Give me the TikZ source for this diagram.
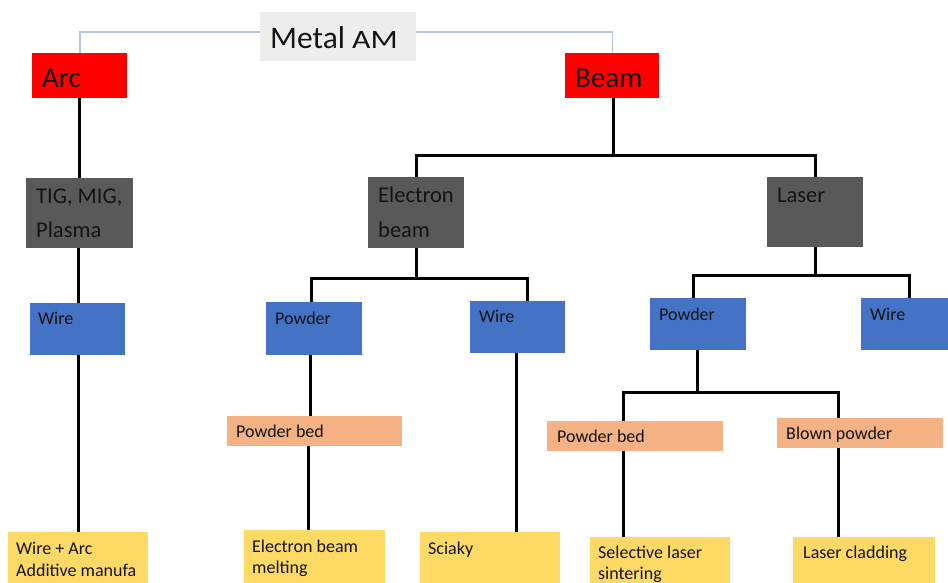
\documentclass[tikz,border=0pt]{standalone}
\usepackage{graphicx}
\usepackage{fontspec}
\setmainfont{Carlito}
\definecolor{rootfill}{HTML}{EDEDED}
\definecolor{rootline}{HTML}{B4C7E7}
\definecolor{srcred}{HTML}{FF0000}
\definecolor{procgray}{HTML}{595959}
\definecolor{feedblue}{HTML}{4472C4}
\definecolor{bedsalmon}{HTML}{F4B183}
\definecolor{procyellow}{HTML}{FFD966}
\definecolor{ink}{HTML}{141414}
\tikzset{
  x=1pt, y=-1pt,
  boxbase/.style={draw=none, inner sep=0pt, anchor=north west},
  rootbox/.style={boxbase, fill=rootfill},
  srcbox/.style={boxbase, fill=srcred},
  grpbox/.style={boxbase, fill=procgray},
  feedbox/.style={boxbase, fill=feedblue},
  bedbox/.style={boxbase, fill=bedsalmon},
  procbox/.style={boxbase, fill=procyellow},
  lbl/.style={inner sep=0pt, anchor=base west, text=ink},
  bigtxt/.style={lbl, font=\fontsize{29}{34}\selectfont},
  midtxt/.style={lbl, font=\fontsize{22.5}{28}\selectfont},
  smalltxt/.style={lbl, font=\fontsize{18}{22}\selectfont},
  tree/.style={line width=3pt, black},
  rootlink/.style={line width=1.5pt, rootline},
}
% box of given corner and size
\newcommand{\putbox}[6]{\node[#1, minimum width=#5, minimum height=#6] (#2) at (#3,#4) {};}
\begin{document}
\begin{tikzpicture}
\useasboundingbox (0,0) rectangle (948,582);
\clip (0,0) rectangle (948,582);
\fill[white] (0,0) rectangle (948,582);

% boxes
\putbox{rootbox}{mam}{260}{12}{156pt}{49pt}
\putbox{srcbox}{arc}{32}{53}{95pt}{45pt}
\putbox{srcbox}{beam}{565}{53}{94pt}{45pt}
\putbox{grpbox}{tig}{26}{178}{107pt}{70pt}
\putbox{grpbox}{eb}{368}{177}{96pt}{71pt}
\putbox{grpbox}{laser}{767}{177}{96pt}{70pt}
\putbox{feedbox}{wireA}{30}{303}{95pt}{52pt}
\putbox{feedbox}{powE}{266}{302}{96pt}{53pt}
\putbox{feedbox}{wireE}{470}{301}{95pt}{52pt}
\putbox{feedbox}{powL}{650}{298}{96pt}{52pt}
\putbox{feedbox}{wireL}{861}{298}{100pt}{52pt}
\putbox{bedbox}{bedE}{227}{416}{175pt}{30pt}
\putbox{bedbox}{bedL}{547}{421}{176pt}{30pt}
\putbox{bedbox}{blown}{777}{418}{166pt}{30pt}
\putbox{procbox}{waam}{8}{532}{140pt}{70pt}
\putbox{procbox}{ebm}{244}{530}{141pt}{70pt}
\putbox{procbox}{sciaky}{420}{532}{140pt}{70pt}
\putbox{procbox}{sls}{590}{537}{140pt}{70pt}
\putbox{procbox}{clad}{793}{537}{142pt}{70pt}

% labels
\node[lbl, font=\fontsize{31.5}{36}\selectfont] (mamT) at (270,48) {Metal \scalebox{1.2}[1]{\fontsize{26.5}{30}\selectfont AM}};
\node[bigtxt] (arcT) at (42,87) {Arc};
\node[bigtxt] (beamT) at (575,87) {Beam};
\node[midtxt] (tigT1) at (36,203) {TIG, MIG,};
\node[midtxt] (tigT2) at (36,237) {Plasma};
\node[midtxt] (ebT1) at (378,202) {Electron};
\node[midtxt] (ebT2) at (378,237) {beam};
\node[midtxt] (laserT) at (777,202) {Laser};
\node[smalltxt] (wireAT) at (38,324) {Wire};
\node[smalltxt] (powET) at (275,324) {Powder};
\node[smalltxt] (wireET) at (479,322) {Wire};
\node[smalltxt] (powLT) at (659,320) {Powder};
\node[smalltxt] (wireLT) at (870,320) {Wire};
\node[smalltxt] (bedET) at (236,437) {Powder bed};
\node[smalltxt] (bedLT) at (557,442) {Powder bed};
\node[smalltxt] (blownT) at (786,439) {Blown powder};
\node[smalltxt] (waamT1) at (16,554) {Wire + Arc};
\node[smalltxt] (waamT2) at (16,576) {Additive manufa};
\node[smalltxt] (ebmT1) at (252,552) {Electron beam};
\node[smalltxt] (ebmT2) at (252,573) {melting};
\node[smalltxt] (sciakyT) at (428,554) {Sciaky};
\node[smalltxt] (slsT1) at (598,558) {Selective laser};
\node[smalltxt] (slsT2) at (598,579) {sintering};
\node[smalltxt] (cladT) at (803,558) {Laser cladding};

% root links
\draw[rootlink] ([yshift=4.5pt]mam.west) -| ([xshift=0.5pt]arc.north);
\draw[rootlink] ([yshift=4.5pt]mam.east) -| ([xshift=0.5pt]beam.north);

% branch points and drop lines
\coordinate (jBeam) at (613,155);
\coordinate (jEbL) at (311,278);
\coordinate (jEbR) at (527,278);
\coordinate (jLsL) at (693,275);
\coordinate (jLsR) at (909,275);
\coordinate (jPwL) at (623,392);
\coordinate (jPwR) at (838,392);
\coordinate (dArc) at (78,0);
\coordinate (dPowE) at (310,0);
\coordinate (dBedE) at (308,0);
\coordinate (dWireE) at (516,0);
\coordinate (dPowL) at (697,0);

% arc branch
\draw[tree] (arc.south) -- (arc.south |- tig.north);
\draw[tree] (tig.south -| dArc) -- (wireA.north -| dArc);
\draw[tree] (wireA.south -| dArc) -- (waam.north -| dArc);

% beam branch
\draw[tree] (beam.south -| jBeam) -- (jBeam);
\draw[tree] (eb.north) |- (jBeam) -| (laser.north);

% electron beam branch
\draw[tree] (eb.south) -- (eb.south |- jEbL);
\draw[tree] (powE.north -| jEbL) -- (jEbL) -- (jEbR) -- (wireE.north -| jEbR);
\draw[tree] (powE.south -| dPowE) -- (bedE.north -| dPowE);
\draw[tree] (bedE.south -| dBedE) -- (ebm.north -| dBedE);
\draw[tree] (wireE.south -| dWireE) -- (sciaky.north -| dWireE);

% laser branch
\draw[tree] (laser.south) -- (laser.south |- jLsL);
\draw[tree] (powL.north -| jLsL) -- (jLsL) -- (jLsR) -- (wireL.north -| jLsR);
\draw[tree] (powL.south -| dPowL) -- (dPowL |- jPwL);
\draw[tree] (bedL.north -| jPwL) -- (jPwL) -- (jPwR) -- (blown.north -| jPwR);
\draw[tree] (bedL.south -| jPwL) -- (sls.north -| jPwL);
\draw[tree] (blown.south -| jPwR) -- (clad.north -| jPwR);
\end{tikzpicture}
\end{document}
